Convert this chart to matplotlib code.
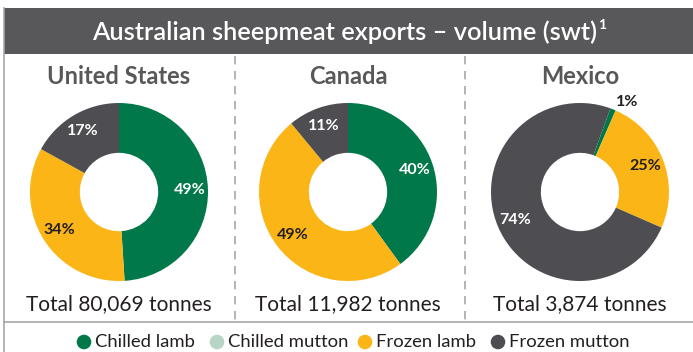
import numpy as np
import matplotlib.pyplot as plt
from matplotlib.patches import Rectangle

plt.rcParams['font.family'] = ['Lato', 'DejaVu Sans']

# export volumes by market (share of swt, %)
markets = ['United States', 'Canada', 'Mexico']
totals = ['Total 80,069 tonnes', 'Total 11,982 tonnes', 'Total 3,874 tonnes']
categories = ['Chilled lamb', 'Chilled mutton', 'Frozen lamb', 'Frozen mutton']
us_share = [49, 0, 34, 17]
canada_share = [40, 0, 49, 11]
mexico_share = [1, 0, 25, 74]
shares = [us_share, canada_share, mexico_share]

colours = ['#00784a', '#b7d5c4', '#fbb517', '#4d4d52']
label_colours = ['white', 'white', '#231f20', 'white']
start_angles = [90, 90, 70]

W, H = 693, 352
fig = plt.figure(figsize=(W / 100, H / 100), dpi=100)

# background frame in pixel coordinates
bg = fig.add_axes([0, 0, 1, 1])
bg.set_xlim(0, W)
bg.set_ylim(H, 0)
bg.axis('off')
line_col = '#a7a7a9'
bg.add_patch(Rectangle((4, 8), W + 5, 46, facecolor='#58585a', edgecolor='none'))
bg.plot([4, 4], [8, H + 2], color=line_col, lw=1.2)
bg.plot([4, W + 2], [322, 322], color=line_col, lw=1.2)
for x in [235, 465]:
    bg.plot([x, x], [56, 320], color=line_col, lw=1.2, dashes=(5, 4))

title = bg.text(345, 32, 'Australian sheepmeat exports – volume (swt)',
                color='white', fontsize=18.3, fontweight='semibold',
                ha='center', va='center')
# footnote marker tucked against the closing bracket
bg.annotate('1', xy=(1, 1), xycoords=title, xytext=(0.5, 1),
            textcoords='offset points', color='white', fontsize=10,
            fontweight='bold', ha='left', va='top')

centres = [119, 348, 580]
cy = 192
r_px = 89

for i, (name, total, vals) in enumerate(zip(markets, totals, shares)):
    cx = centres[i]
    bg.text(cx, 77, name, color='#58585a', fontsize=17, fontweight='bold',
            ha='center', va='center')
    bg.text(cx, 304, total, color='#231f20', fontsize=15,
            ha='center', va='center')

    ax = fig.add_axes([(cx - r_px) / W, 1 - (cy + r_px) / H,
                       2 * r_px / W, 2 * r_px / H])
    wedges, _ = ax.pie(vals, colors=colours, startangle=start_angles[i],
                       counterclock=False, radius=1,
                       wedgeprops=dict(width=0.56, edgecolor='none'))
    ax.set_xlim(-1, 1)
    ax.set_ylim(-1, 1)
    ax.axis('off')

    for w, v, c in zip(wedges, vals, label_colours):
        if v == 0:
            continue
        ang = np.deg2rad((w.theta1 + w.theta2) / 2)
        if v < 5:
            # thin slice: label sits just outside the ring
            ang -= np.deg2rad(6)
            rr, col = 1.14, '#231f20'
        else:
            rr, col = 0.79, c
        ax.text(rr * np.cos(ang), rr * np.sin(ang), f'{v}%', color=col,
                fontsize=11.5, fontweight='bold', ha='center', va='center',
                clip_on=False)

# legend row
leg_x = [84, 217, 365, 498]
for x, name, c in zip(leg_x, categories, colours):
    bg.scatter([x], [342], s=110, color=c, edgecolors='none')
    bg.text(x + 11, 342, name, color='#231f20', fontsize=13.3,
            ha='left', va='center')

fig.savefig('out.png', dpi=100)
